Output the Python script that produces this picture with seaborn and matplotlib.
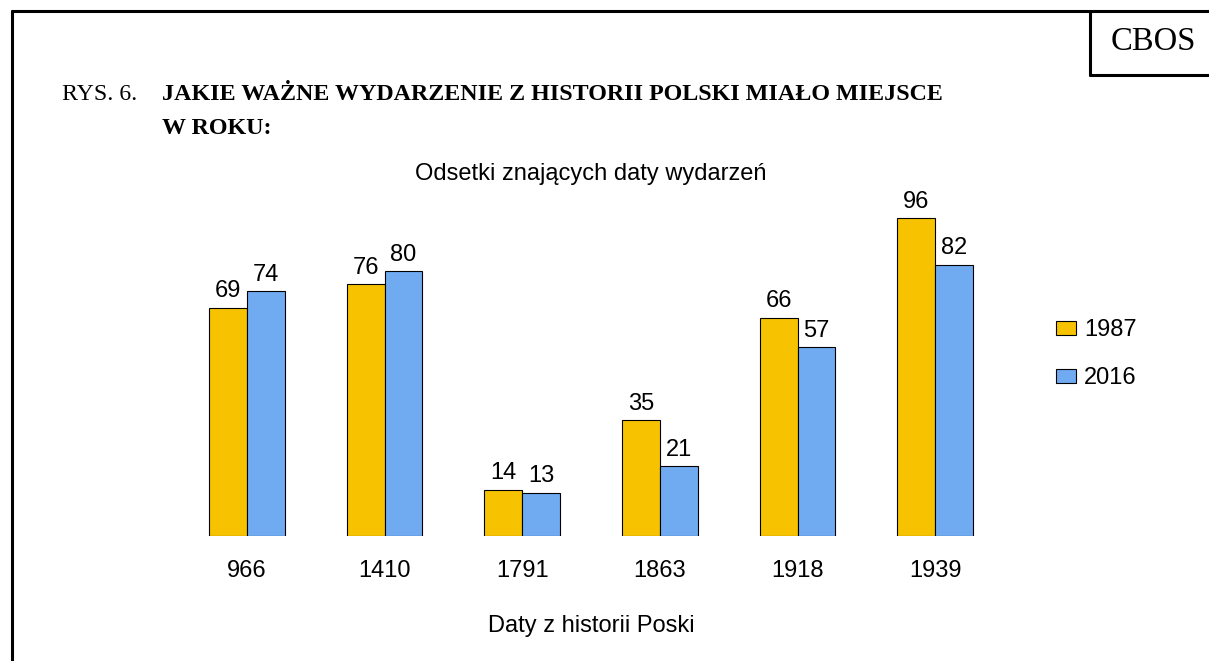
import pandas as pd
import matplotlib
matplotlib.use("Agg")
import matplotlib.pyplot as plt
import seaborn as sns
from matplotlib.lines import Line2D

# Dane
daty = ['966', '1410', '1791', '1863', '1918', '1939']
rok_1987 = [69, 76, 14, 35, 66, 96]
rok_2016 = [74, 80, 13, 21, 57, 82]
serie = ['1987', '2016']
kolory = ['#F7C300', '#70ABF2']

df = pd.DataFrame({
    'data': daty * 2,
    'odsetek': rok_1987 + rok_2016,
    'seria': [serie[0]] * len(daty) + [serie[1]] * len(daty),
})

sns.set_theme(style='white')
plt.rcParams['font.family'] = ['Liberation Sans', 'DejaVu Sans']
plt.rcParams['text.color'] = 'black'
plt.rcParams['xtick.color'] = 'black'
plt.rcParams['axes.labelcolor'] = 'black'

fs = 17

fig = plt.figure(figsize=(12.09, 6.61), dpi=100)
ax = fig.add_axes([178 / 1209, 1 - 536 / 661, (1004 - 178) / 1209, (536 - 205) / 661])

sns.barplot(data=df, x='data', y='odsetek', hue='seria', palette=kolory,
            edgecolor='black', linewidth=0.8, width=0.55, gap=0,
            saturation=1, ax=ax)

for kont in ax.containers:
    ax.bar_label(kont, fontsize=fs, padding=4, color='black')

ax.set_ylim(0, 100)
ax.set_xlim(-0.5, 5.5)
ax.set_yticks([])
ax.set_ylabel('')
ax.set_xlabel('Daty z historii Poski', fontsize=fs, labelpad=24)
ax.tick_params(axis='x', length=0, labelsize=fs, pad=17)
for s in ax.spines.values():
    s.set_visible(False)

ax.set_title('Odsetki znających daty wydarzeń', fontsize=fs, pad=18, color='black')

ax.legend(loc='center left', bbox_to_anchor=(1056 / 1209, 1 - 354 / 661),
          bbox_transform=fig.transFigure, frameon=False, fontsize=fs,
          handlelength=0.85, handleheight=0.55, handletextpad=0.35,
          labelspacing=1.1, borderpad=0, borderaxespad=0)

# Ramka i naglowek
lw = 2.2
fig.add_artist(Line2D([11.5 / 1209, 11.5 / 1209], [0, 1 - 10.5 / 661], color='black', lw=lw))
fig.add_artist(Line2D([11.5 / 1209, 1], [1 - 10.5 / 661, 1 - 10.5 / 661], color='black', lw=lw))
fig.add_artist(Line2D([1090 / 1209, 1090 / 1209], [1 - 10.5 / 661, 1 - 75 / 661], color='black', lw=lw))
fig.add_artist(Line2D([1090 / 1209, 1], [1 - 75 / 661, 1 - 75 / 661], color='black', lw=lw))

fig.text(1153 / 1209, 1 - 42 / 661, 'CBOS', fontsize=23.5, family='Liberation Serif',
         ha='center', va='center')
fig.text(62 / 1209, 1 - 95 / 661, 'RYS. 6.', fontsize=17.2, family='Liberation Serif',
         ha='left', va='center')
fig.text(162 / 1209, 1 - 95 / 661, 'JAKIE WAŻNE WYDARZENIE Z HISTORII POLSKI MIAŁO MIEJSCE',
         fontsize=17.3, family='Liberation Serif', weight='bold', ha='left', va='center')
fig.text(162 / 1209, 1 - 128 / 661, 'W ROKU:',
         fontsize=17.3, family='Liberation Serif', weight='bold', ha='left', va='center')

fig.savefig('out.png', dpi=100)
